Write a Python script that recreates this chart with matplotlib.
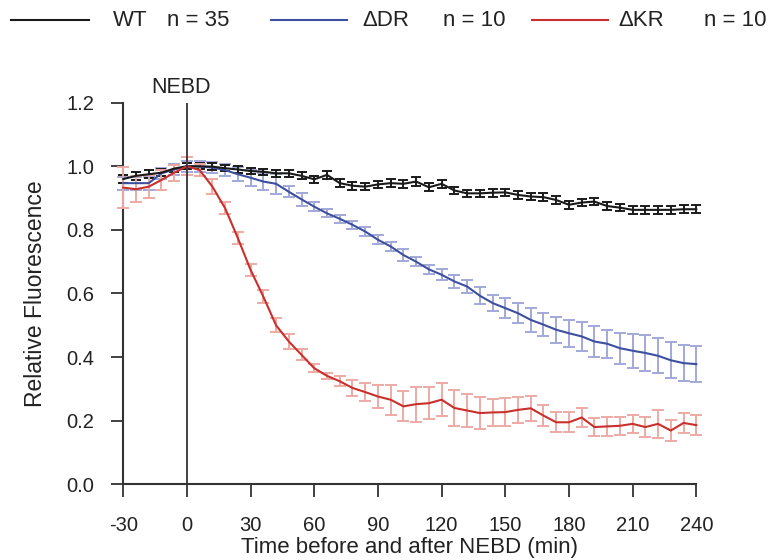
import numpy as np
import matplotlib
matplotlib.use("Agg")
import matplotlib.pyplot as plt
from matplotlib.lines import Line2D

plt.rcParams['font.family'] = ['Liberation Sans', 'DejaVu Sans']

# time points (min relative to NEBD), every 6 min
time = list(range(-30, 241, 6))

wt_mean = [0.960, 0.970, 0.975, 0.980, 0.993, 1.000, 1.000, 0.999, 0.994, 0.990,
           0.985, 0.983, 0.978, 0.978, 0.970, 0.959, 0.973, 0.947, 0.939, 0.936,
           0.943, 0.947, 0.945, 0.952, 0.934, 0.945, 0.924, 0.915, 0.915, 0.917,
           0.918, 0.910, 0.905, 0.903, 0.894, 0.879, 0.886, 0.889, 0.875, 0.870,
           0.863, 0.863, 0.863, 0.863, 0.865, 0.865]
wt_err = [0.014, 0.012, 0.012, 0.012, 0.012, 0.010, 0.010, 0.010, 0.010, 0.010,
          0.010, 0.010, 0.011, 0.011, 0.011, 0.012, 0.012, 0.012, 0.012, 0.012,
          0.012, 0.012, 0.012, 0.013, 0.012, 0.012, 0.012, 0.012, 0.012, 0.012,
          0.012, 0.012, 0.012, 0.012, 0.012, 0.012, 0.012, 0.012, 0.012, 0.012,
          0.012, 0.012, 0.013, 0.013, 0.013, 0.013]

dr_mean = [0.947, 0.947, 0.947, 0.978, 0.990, 1.000, 0.999, 0.996, 0.988, 0.975,
           0.964, 0.952, 0.945, 0.920, 0.896, 0.873, 0.852, 0.835, 0.816, 0.795,
           0.769, 0.748, 0.721, 0.700, 0.676, 0.659, 0.638, 0.622, 0.593, 0.570,
           0.554, 0.538, 0.517, 0.502, 0.486, 0.475, 0.465, 0.449, 0.442, 0.428,
           0.420, 0.413, 0.404, 0.390, 0.381, 0.378]
dr_err = [0.020, 0.020, 0.020, 0.018, 0.018, 0.017, 0.017, 0.018, 0.020, 0.022,
          0.025, 0.028, 0.031, 0.017, 0.020, 0.015, 0.013, 0.012, 0.012, 0.013,
          0.014, 0.015, 0.018, 0.014, 0.014, 0.018, 0.021, 0.022, 0.026, 0.026,
          0.031, 0.032, 0.038, 0.037, 0.041, 0.042, 0.046, 0.048, 0.044, 0.049,
          0.054, 0.057, 0.055, 0.057, 0.057, 0.057]

kr_mean = [0.933, 0.928, 0.936, 0.957, 0.980, 1.000, 0.988, 0.936, 0.868, 0.774,
           0.674, 0.590, 0.500, 0.449, 0.407, 0.365, 0.341, 0.324, 0.303, 0.290,
           0.276, 0.266, 0.245, 0.252, 0.255, 0.266, 0.240, 0.232, 0.224, 0.226,
           0.227, 0.234, 0.239, 0.216, 0.195, 0.195, 0.210, 0.180, 0.182, 0.184,
           0.190, 0.180, 0.190, 0.169, 0.193, 0.186]
kr_err = [0.064, 0.040, 0.037, 0.030, 0.025, 0.028, 0.020, 0.023, 0.019, 0.019,
          0.018, 0.020, 0.022, 0.024, 0.017, 0.012, 0.010, 0.016, 0.024, 0.029,
          0.037, 0.047, 0.047, 0.055, 0.050, 0.052, 0.056, 0.053, 0.049, 0.043,
          0.043, 0.042, 0.040, 0.033, 0.031, 0.031, 0.029, 0.029, 0.029, 0.029,
          0.028, 0.031, 0.045, 0.034, 0.032, 0.031]

xticks = [-30, 0, 30, 60, 90, 120, 150, 180, 210, 240]
yticks = [0.0, 0.2, 0.4, 0.6, 0.8, 1.0, 1.2]

series = [
    ("WT", "n = 35", wt_mean, wt_err, "#1a1a1a", "#1a1a1a", 3.4),
    ("\u0394DR", "n = 10", dr_mean, dr_err, "#3d50a0", "#a2a8d8", 4.5),
    ("\u0394KR", "n = 10", kr_mean, kr_err, "#c9302c", "#eeaaa4", 4.5),
]

fig = plt.figure(figsize=(7.71, 5.6), dpi=100)
ax = fig.add_axes([0.1599, 0.1352, 0.7432, 0.6814])

t = np.array(time)
# error bars first (light colors), then the mean lines
for order, (name, n, m, e, lc, ec, cs) in zip([2, 1, 3], series):
    ax.errorbar(t, m, yerr=e, fmt='none', ecolor=ec, elinewidth=1.4,
                capsize=cs, capthick=1.4, clip_on=False, zorder=order)
for order, (name, n, m, e, lc, ec, cs) in zip([5, 4, 6], series):
    ax.plot(t, m, color=lc, lw=1.5, clip_on=False, zorder=order)

# NEBD line
ax.axvline(0, color='#333333', lw=1.3, zorder=7)
ax.text(-3, 1.215, "NEBD", ha='center', va='bottom', fontsize=15.5,
        transform=ax.transData, color='#222222')

ax.set_xlim(-30, 240)
ax.set_ylim(0, 1.2)
ax.set_xticks(xticks)
ax.set_xticklabels([str(v) for v in xticks])
ax.set_yticks(yticks)
ax.set_yticklabels([f"{v:.1f}" for v in yticks])
for s in ['top', 'right']:
    ax.spines[s].set_visible(False)
for s in ['left', 'bottom']:
    ax.spines[s].set_color('#333333')
    ax.spines[s].set_linewidth(1.5)
ax.tick_params(axis='both', direction='out', length=9, width=1.3,
               color='#333333', labelsize=14.5, labelcolor='#222222')
ax.tick_params(axis='y', pad=12)
ax.tick_params(axis='x', pad=14)
ax.set_xlabel("Time before and after NEBD (min)", fontsize=16, labelpad=1,
              color='#222222')
ax.set_ylabel("Relative Fluorescence", fontsize=16.5, labelpad=14,
              color='#222222')

# legend across the top
ly = 1 - 20 / 560
legend_pos = [(11, 89, 113, 167), (271, 347, 362, 443), (532, 608, 618, 704)]
for (name, n, m, e, lc, ec, cs), (x0, x1, xt, xn) in zip(series, legend_pos):
    fig.add_artist(Line2D([x0 / 771, x1 / 771], [ly, ly], color=lc, lw=1.5))
    fig.text(xt / 771, ly, name, ha='left', va='center', fontsize=16,
             color='#222222')
    fig.text(xn / 771, ly, n, ha='left', va='center', fontsize=16,
             color='#222222')

fig.savefig("out.png", dpi=100)
